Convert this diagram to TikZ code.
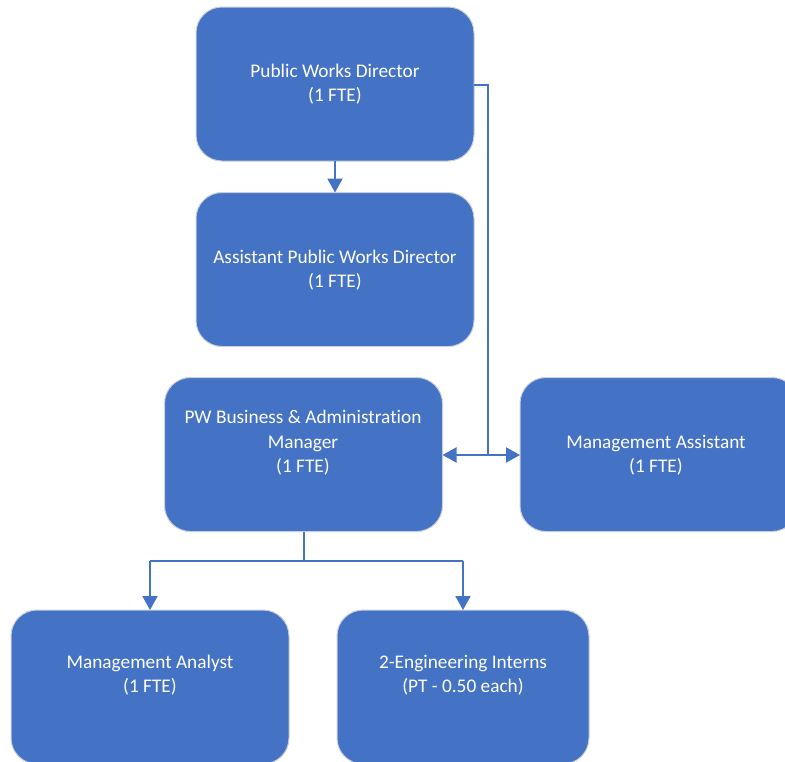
\documentclass[tikz,border=0pt]{standalone}
\usepackage{fontspec}
\setmainfont[Ligatures={NoCommon}]{Carlito}
\usetikzlibrary{arrows.meta}
\definecolor{boxblue}{HTML}{4472C4}
\definecolor{boxrim}{HTML}{C9CFDA}
\begin{document}
\begin{tikzpicture}[x=1pt,y=-1pt,
  orgbox/.style={draw=boxrim,line width=1pt,fill=boxblue,rounded corners=26pt,
    minimum width=#1,minimum height=154pt,inner sep=0pt,outer sep=0pt},
  orgbox/.default=278pt,
  boxtext/.style={text=white,align=center,font=\fontsize{19.3}{24.5}\selectfont,inner sep=0pt},
  link/.style={draw=boxblue,line width=2pt},
  head/.tip={Triangle[length=14pt,width=15pt]},
  tip/.style={-head}]
\useasboundingbox (0,0) rectangle (785,761);

% boxes
\node[orgbox] (pwd)  at (335,84) {};
\node[orgbox] (apwd) at (335,269.5) {};
\node[orgbox] (mgr)  at (303.5,454.5) {};
\node[orgbox] (asst) at (659,454.5) {};
\node[orgbox] (anl)  at (150,687) {};
\node[orgbox=252pt] (int) at (463,687) {};

% labels
\node[boxtext] (pwdt)  at (335,84)  {Public Works Director\\(1 FTE)};
\node[boxtext] (apwdt) at (335,270) {Assistant Public Works Director\\(1 FTE)};
\node[boxtext] (mgrt)  at (303,443) {PW Business \& Administration\\Manager\\(1 FTE)};
\node[boxtext] (asstt) at (656,455) {Management Assistant\\(1 FTE)};
\node[boxtext] (anlt)  at (150,675) {Management Analyst\\(1 FTE)};
\node[boxtext] (intt)  at (463,675) {2-Engineering Interns\\(PT - 0.50 each)};

% connector points
\coordinate (pwdr)  at (pwd.east |- 0,85);
\coordinate (side)  at (488,85);
\coordinate (join)  at (488,455);
\coordinate (mgrr)  at (mgr.east |- join);
\coordinate (drop)  at (mgr.south |- 0,561);
\coordinate (leftc) at (anl.north |- drop);
\coordinate (rightc) at (int.north |- drop);

% connectors
\draw[link,tip] (pwd.south) -- (apwd.north);
\draw[link] (pwdr) -- (side) -- (join);
\draw[link,head-head] (mgrr) -- (asst.west |- join);
\draw[link] (mgr.south) -- (drop);
\draw[link] (leftc) -- (rightc);
\draw[link,tip] (leftc) -- (anl.north);
\draw[link,tip] (rightc) -- (int.north);
\end{tikzpicture}
\end{document}
